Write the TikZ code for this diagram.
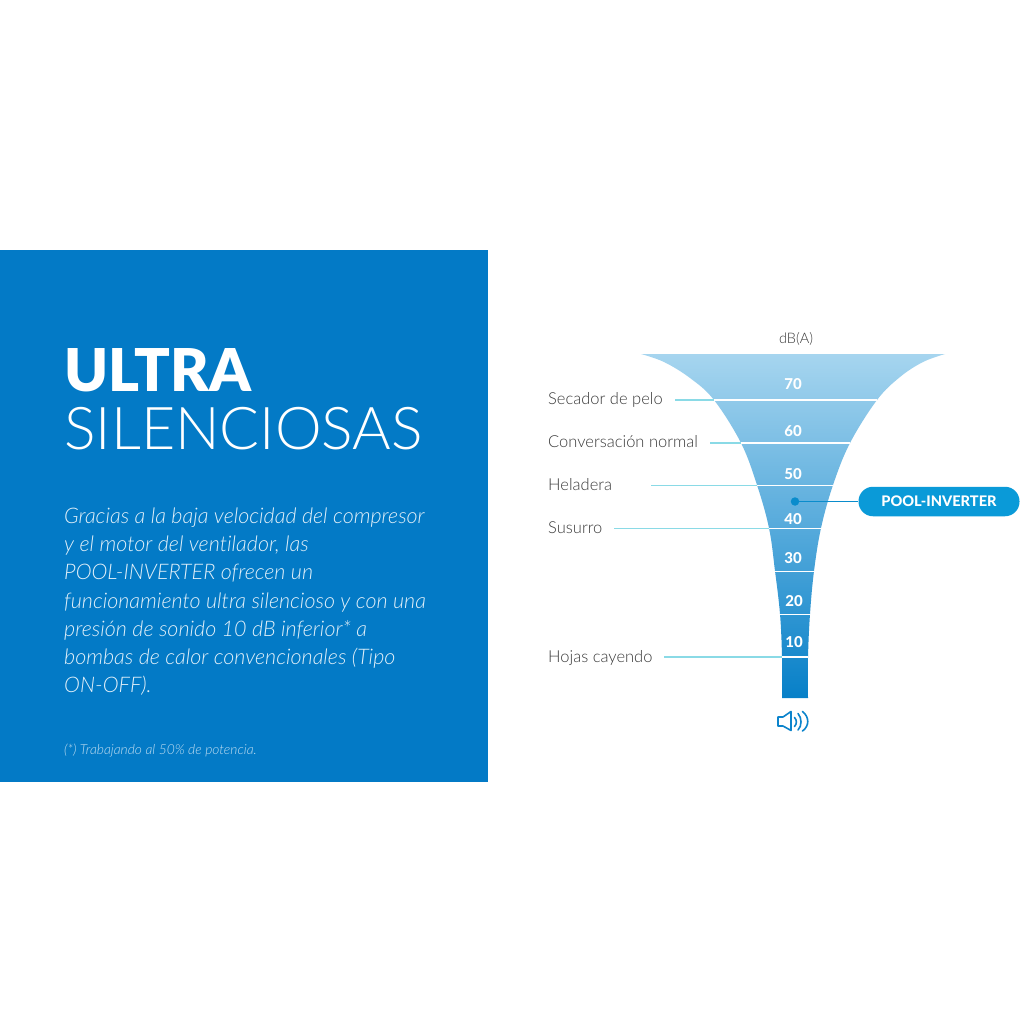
\documentclass[tikz,border=0pt]{standalone}
\usepackage{fontspec}
\usetikzlibrary{calc}
\defaultfontfeatures{Ligatures=NoCommon}
\setmainfont{Lato}[UprightFont=* Light,ItalicFont=* Light Italic,BoldFont=* Bold,BoldItalicFont=* Bold Italic]
\newfontfamily\latoblack{Lato}[UprightFont=* Black]
\newfontfamily\latoheavy{Lato}[UprightFont=* Heavy]
\definecolor{panel}{HTML}{037AC6}
\definecolor{bodytxt}{HTML}{E2F0F9}
\definecolor{foottxt}{HTML}{BFDDF1}
\definecolor{lead}{HTML}{8ADAE6}
\definecolor{labeltxt}{HTML}{3A3A3A}
\definecolor{pill}{HTML}{0A9AD8}
\definecolor{pointer}{HTML}{0A8CCC}
\definecolor{icon}{HTML}{0C84CC}
\definecolor{ftop}{HTML}{A6D5EF}
\definecolor{fmid}{HTML}{12A5DA}
\definecolor{fbot}{HTML}{0780C8}
\tikzset{
 x=1pt,y=-1pt,
 lab/.style={anchor=base west,inner sep=0pt,font=\fontsize{16.5}{16.5}\selectfont,text=labeltxt},
 num/.style={anchor=center,inner sep=0pt,text=white,font=\latoheavy\fontsize{15}{15}\selectfont},
 leadline/.style={draw=lead,line width=1.4pt},
 band/.style={draw=white,line width=1.4pt},
 bodyline/.style={anchor=base west,inner sep=0pt,text=bodytxt,font=\itshape\fontsize{21.5}{21.5}\selectfont},
 iconline/.style={draw=icon,line width=1.6pt,line cap=round,line join=round},
}
\begin{document}
\begin{tikzpicture}
\useasboundingbox (0,0) rectangle (1024,1024);
\fill[white] (0,0) rectangle (1024,1024);
\fill[panel] (0,249.5) rectangle (487.5,781.5);
\node[anchor=base west,inner sep=0pt,text=white,font=\latoblack\fontsize{59}{59}\selectfont] (t1) at (64,391.5) {ULTRA};
\node[anchor=base west,inner sep=0pt,text=white,font=\fontsize{59}{59}\selectfont] (t2) at (64,449.5) {SILENCIOSAS};
\node[bodyline] (bodya) at (64,523.5) {Gracias a la baja velocidad del compresor};
\node[bodyline] (bodyb) at (64,551.5) {y el motor del ventilador, las};
\node[bodyline] (bodyc) at (64,579.5) {POOL-INVERTER ofrecen un};
\node[bodyline] (bodyd) at (64,608) {funcionamiento ultra silencioso y con una};
\node[bodyline] (bodye) at (64,636) {presión de sonido 10 dB inferior* a};
\node[bodyline] (bodyf) at (64,664.5) {bombas de calor convencionales (Tipo};
\node[bodyline] (bodyg) at (64,692.5) {ON-OFF).};
\node[anchor=base west,inner sep=0pt,text=foottxt,font=\itshape\fontsize{13.8}{13.8}\selectfont] (foot) at (64,754.5) {(*) Trabajando al 50\% de potencia.};

% funnel
\path[top color=ftop,middle color=fmid,bottom color=fbot]
 plot[smooth,tension=.6] coordinates {(641,354) (664,362) (690,378) (714,400) (741,443) (757,485) (769,528) (775,571) (780,614) (782,657) (782,698)}
 -- plot[smooth,tension=.6] coordinates {(808,698) (808,657) (810,614) (814,571) (821,528) (833,485) (850,443) (877,400) (900,377) (923,362) (945,354)}
 -- cycle;

% labels and leaders
\node[lab] (secador) at (548,404) {Secador de pelo};
\node[lab] (conv) at (548,447) {Conversación normal};
\node[lab] (helad) at (548,490) {Heladera};
\node[lab] (susurro) at (548,533) {Susurro};
\node[lab] (hojas) at (548,662) {Hojas cayendo};
\coordinate (l1s) at (675,400); \coordinate (l1m) at (714,400); \coordinate (l1e) at (877,400);
\coordinate (l2s) at (710,443); \coordinate (l2m) at (741,443); \coordinate (l2e) at (850,443);
\coordinate (l3s) at (651,485.5); \coordinate (l3m) at (757,485.5); \coordinate (l3e) at (833,485.5);
\coordinate (l4s) at (614,528.5); \coordinate (l4m) at (769,528.5); \coordinate (l4e) at (821,528.5);
\coordinate (l5s) at (775,571.5); \coordinate (l5e) at (814,571.5);
\coordinate (l6s) at (780,614.5); \coordinate (l6e) at (810,614.5);
\coordinate (l7s) at (664,657); \coordinate (l7m) at (782,657); \coordinate (l7e) at (808,657);
\draw[leadline] (l1s) -- (l1m);
\draw[leadline] (l2s) -- (l2m);
\draw[leadline] (l3s) -- (l3m);
\draw[leadline] (l4s) -- (l4m);
\draw[leadline] (l7s) -- (l7m);
\draw[band] (l1m) -- (l1e);
\draw[band] (l2m) -- (l2e);
\draw[band] (l3m) -- (l3e);
\draw[band] (l4m) -- (l4e);
\draw[band] (l5s) -- (l5e);
\draw[band] (l6s) -- (l6e);
\draw[band] (l7m) -- (l7e);

% numbers
\node[num] (n70) at (793,384.5) {70};
\node[num] (n60) at (793,431) {60};
\node[num] (n50) at (793,474) {50};
\node[num] (n40) at (793,519) {40};
\node[num] (n30) at (793,558) {30};
\node[num] (n20) at (794,601.5) {20};
\node[num] (n10) at (794,642) {10};
\node[anchor=center,inner sep=0pt,text=labeltxt,font=\fontsize{14.5}{14.5}\selectfont] (dba) at (796,338.5) {dB(A)};

% pool-inverter marker
\node[fill=pill,rounded corners=14.5pt,minimum width=161pt,minimum height=29.5pt,inner sep=0pt,text=white,font=\latoheavy\fontsize{14.6}{14.6}\selectfont] (pool) at (939,501.5) {POOL-INVERTER};
\node[circle,fill=pointer,minimum size=8.5pt,inner sep=0pt] (dot) at (795,501.5) {};
\draw[pointer,line width=1.8pt] (dot) -- (pool);

% speaker icon
\draw[iconline] (778,717) -- (783,717) -- (791,711.5) -- (791,730.5) -- (783,726) -- (778,726) -- cycle;
\draw[iconline] (794.5,717.5) .. controls (797,720) and (797,724) .. (794.5,726.5);
\draw[iconline] (798,713.5) .. controls (802,718) and (802,726) .. (798,730);
\draw[iconline] (802.5,711.5) .. controls (809.5,717) and (809.5,726) .. (802.5,731);
\end{tikzpicture}
\end{document}
